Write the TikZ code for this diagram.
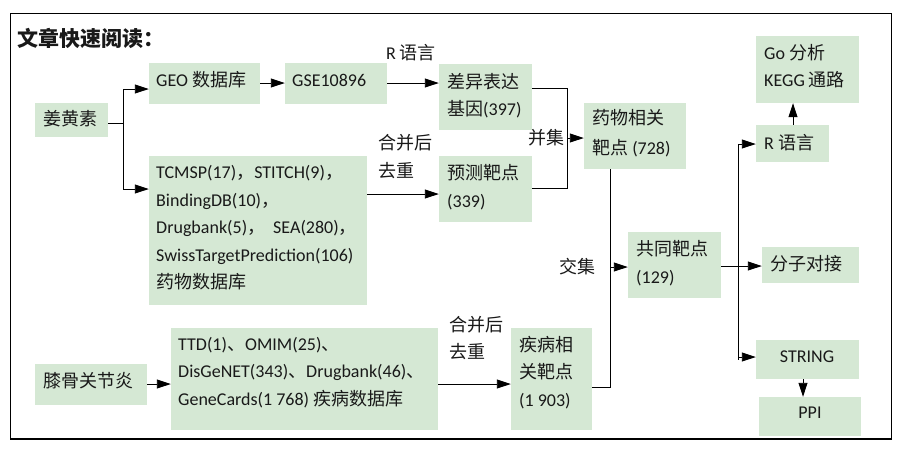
\documentclass[tikz,border=0pt]{standalone}
\usepackage{fontspec}
\setmainfont{Carlito}
\newfontfamily\cjk{Noto Sans CJK SC}
\usetikzlibrary{arrows.meta}
\newcommand\zh[1]{{\cjk #1}}
\definecolor{boxgreen}{RGB}{213,232,212}
\definecolor{ink}{RGB}{25,25,25}
\tikzset{
  box/.style={fill=boxgreen, draw=none, inner sep=0pt},
  txt/.style={inner sep=0pt, anchor=west, align=left, text=ink, font=\fontsize{18}{27.5}\selectfont},
  conn/.style={line width=0.9pt, draw=black},
  arr/.style={conn, -{Triangle[length=14pt,width=9pt]}},
}
\newcommand\mybox[5]{\node[box, minimum width={#4-#2}, minimum height={#5-#3}] (#1) at ({(#2+#4)/2},{(#3+#5)/2}) {};}
\begin{document}
\begin{tikzpicture}[x=1pt,y=-1pt]
\useasboundingbox (0,0) rectangle (906,451);
\fill[white] (0,0) rectangle (906,451);
\draw[line width=1.2pt] (10.7,13.7) rectangle (891.7,439);

% boxes
\mybox{jh}{35}{103}{108}{137}
\mybox{geo}{149}{63}{260}{104}
\mybox{gse}{285}{63}{387}{104}
\mybox{cy}{439}{64}{532}{130}
\mybox{yc}{439}{156}{532}{222}
\mybox{tcm}{149}{156}{367}{305}
\mybox{yw}{584}{103}{686}{169}
\mybox{go}{756}{36}{859}{103}
\mybox{rl}{756}{125}{829}{162}
\mybox{xg}{35}{364}{147}{405}
\mybox{ttd}{171}{328}{438}{430}
\mybox{jb}{511}{328}{592}{430}
\mybox{gt}{628}{232}{721}{298}
\mybox{fz}{762}{247}{859}{283}
\mybox{st}{756}{340}{859}{379}
\mybox{ppi}{759}{397}{861}{436}

% texts
\node[txt, font=\fontsize{21}{21}\selectfont] (title) at (17,38) {\zh{\bfseries 文章快速阅读：}};
\node[txt] (t-jh) at (43,119) {\zh{姜黄素}};
\node[txt] (t-geo) at (156,80) {GEO \zh{数据库}};
\node[txt] (t-gse) at (292,80) {GSE10896};
\node[txt] (t-cy) at (447,95.5) {\zh{差异表达}\\\zh{基因}(397)};
\node[txt] (t-yc) at (447,187) {\zh{预测靶点}\\(339)};
\node[txt] (t-tcm) at (156,228) {TCMSP(17)\zh{，}STITCH(9)\zh{，}\\BindingDB(10)\zh{，}\\Drugbank(5)\zh{，}\hspace{8pt}SEA(280)\zh{，}\\SwissTargetPrediction(106)\\\zh{药物数据库}};
\node[txt, font=\fontsize{18}{30}\selectfont] (t-yw) at (592,133) {\zh{药物相关}\\\zh{靶点} (728)};
\node[txt, font=\fontsize{18}{27}\selectfont] (t-go) at (764,66.5) {Go \zh{分析}\\KEGG \zh{通路}};
\node[txt] (t-rl) at (764,143) {R \zh{语言}};
\node[txt] (t-xg) at (43,381) {\zh{膝骨关节炎}};
\node[txt] (t-ttd) at (178,372.5) {TTD(1)\zh{、}OMIM(25)\zh{、}\\DisGeNET(343)\zh{、}Drugbank(46)\zh{、}\\GeneCards(1 768) \zh{疾病数据库}};
\node[txt] (t-jb) at (519,372.5) {\zh{疾病相}\\\zh{关靶点}\\(1 903)};
\node[txt, font=\fontsize{18}{28}\selectfont] (t-gt) at (636,263) {\zh{共同靶点}\\(129)};
\node[txt] (t-fz) at (770,264) {\zh{分子对接}};
\node[txt, anchor=center] (t-st) at (807,357) {STRING};
\node[txt, anchor=center] (t-ppi) at (810,413) {PPI};

% edge labels
\node[txt, anchor=center] (l-r) at (411,53) {R \zh{语言}};
\node[txt] (l-hb1) at (378,156.5) {\zh{合并后}\\\zh{去重}};
\node[txt, anchor=east] (l-bj) at (565,138) {\zh{并集}};
\node[txt] (l-jj) at (559,267) {\zh{交集}};
\node[txt] (l-hb2) at (449,338) {\zh{合并后}\\\zh{去重}};

% connectors
\coordinate (jm) at (123,123);
\coordinate (j1) at (123,89);
\coordinate (j2) at (123,189);
\draw[conn] (jh.east |- jm) -- (jm);
\draw[arr] (jm) |- (geo.west |- j1);
\draw[arr] (jm) |- (tcm.west |- j2);

\coordinate (r1) at (0,83);
\draw[arr] (geo.east |- r1) -- (gse.west |- r1);
\draw[arr] (gse.east |- r1) -- (cy.west |- r1);
\coordinate (r2) at (0,194);
\draw[arr] (tcm.east |- r2) -- (yc.west |- r2);

\coordinate (u1) at (567,88);
\coordinate (u2) at (567,188);
\coordinate (u) at (567,138);
\draw[conn] (cy.east |- u1) -- (u1) -- (u2) -- (yc.east |- u2);
\draw[arr] (u) -- (yw.west |- u);

\coordinate (i1) at (610,387);
\coordinate (i) at (610,267);
\draw[conn] (yw.south -| i1) -- (i1) -- (jb.east |- i1);
\draw[arr] (i) -- (gt.west |- i);

\coordinate (r3) at (0,384);
\draw[arr] (xg.east |- r3) -- (ttd.west |- r3);
\draw[arr] (ttd.east |- r3) -- (jb.west |- r3);

\coordinate (o1) at (738,266);
\coordinate (o2) at (738,144);
\coordinate (o3) at (738,357);
\coordinate (o4) at (738,360);
\draw[arr] (gt.east |- o1) -- (fz.west |- o1);
\draw[conn] (o2) -- (o4);
\draw[arr] (o2) -- (rl.west |- o2);
\draw[arr] (o3) -- (st.west |- o3);

\coordinate (g1) at (793,0);
\coordinate (g2) at (803,0);
\draw[arr] (rl.north -| g1) -- (go.south -| g1);
\draw[arr] (st.south -| g2) -- (ppi.north -| g2);
\end{tikzpicture}
\end{document}
